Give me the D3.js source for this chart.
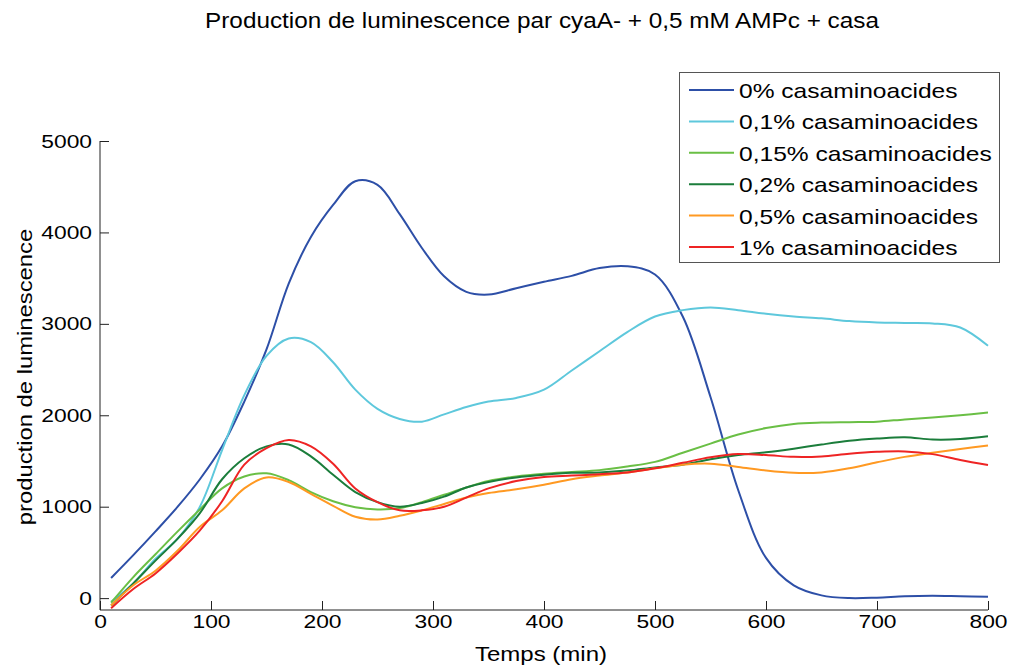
<!DOCTYPE html>
<html><head><meta charset="utf-8">
<script src="https://cdn.jsdelivr.net/npm/d3@7"></script>
<style>body{margin:0;background:#fff}svg{display:block}text{font-family:"Liberation Sans",Arial,sans-serif;fill:#000}</style>
</head><body>
<svg id="c" width="1012" height="668"></svg>
<script>
const times = [10,30,50,70,90,110,130,150,170,190,210,230,250,270,290,310,330,350,375,400,425,450,475,500,525,550,575,600,625,650,675,700,725,750,775,800];
const seriesNames = ["0% casaminoacides","0,1% casaminoacides","0,15% casaminoacides","0,2% casaminoacides","0,5% casaminoacides","1% casaminoacides"];
const seriesColors = ["#2d4fa7","#5ec8dc","#6abf45","#1b7d3b","#ff9922","#ee2424"];
const casa0 = [220,470,730,1000,1300,1660,2150,2720,3440,3950,4300,4560,4520,4200,3830,3520,3350,3320,3390,3460,3525,3610,3630,3540,3080,2200,1180,440,140,30,0,5,20,25,20,15];
const casa01 = [-40,160,430,650,1000,1620,2220,2650,2840,2800,2580,2280,2070,1960,1930,2010,2090,2150,2190,2280,2490,2700,2910,3080,3150,3180,3150,3110,3080,3060,3030,3015,3010,3005,2960,2760];
const casa015 = [-50,230,480,730,970,1200,1330,1365,1290,1160,1060,995,970,985,1050,1130,1210,1280,1330,1360,1380,1400,1440,1490,1590,1690,1790,1860,1905,1920,1925,1930,1955,1975,2000,2030];
const casa02 = [-80,160,410,650,930,1300,1530,1660,1680,1550,1350,1160,1050,1000,1040,1110,1210,1270,1320,1350,1370,1375,1395,1430,1460,1520,1565,1595,1635,1680,1720,1745,1760,1735,1740,1770];
const casa05 = [-80,140,300,520,780,960,1200,1320,1270,1140,1010,890,860,900,960,1030,1100,1150,1190,1240,1300,1340,1375,1420,1460,1470,1435,1395,1370,1375,1420,1485,1545,1590,1630,1670];
const casa1 = [-110,100,270,490,740,1060,1460,1640,1730,1660,1470,1200,1050,960,960,1000,1100,1200,1280,1325,1340,1355,1375,1420,1480,1540,1575,1565,1545,1550,1580,1600,1605,1575,1510,1455];
const xTicks = [0,100,200,300,400,500,600,700,800];
const yTicks = [0,1000,2000,3000,4000,5000];
const titleText = "Production de luminescence par cyaA- + 0,5 mM AMPc + casa";
const xLabel = "Temps (min)";
const yLabel = "production de luminescence";

const allSeries = [casa0,casa01,casa015,casa02,casa05,casa1];
const svg = d3.select("#c");
const L=100, R=988, T=141, B=610;
const x = d3.scaleLinear().domain([0,800]).range([L,R]);
const y = d3.scaleLinear().domain([-130,5000]).range([B,T]);

function stretch(sel, f){
  sel.each(function(){
    const w = this.getComputedTextLength();
    d3.select(this).attr("textLength", w*f).attr("lengthAdjust","spacingAndGlyphs");
  });
}

const fmt = d3.format("d");
const xa = svg.append("g").attr("transform",`translate(0,${B})`)
  .call(d3.axisBottom(x).tickValues(xTicks).tickFormat(fmt).tickSizeInner(-9).tickSizeOuter(0).tickPadding(5));
const ya = svg.append("g").attr("transform",`translate(${L},0)`)
  .call(d3.axisLeft(y).tickValues(yTicks).tickFormat(fmt).tickSizeInner(-9).tickSizeOuter(0).tickPadding(8));
[xa,ya].forEach(a=>{
  a.select(".domain").attr("stroke","#222").attr("stroke-width",1);
  a.selectAll(".tick line").attr("stroke","#222");
  a.selectAll(".tick text").attr("font-size",19).attr("font-family","Liberation Sans, Arial, sans-serif").attr("fill","#000");
});
ya.select(".domain").attr("d",`M0,${B}V${T}`);
xa.select(".domain").attr("d",`M${L},0H${R}`);
xa.selectAll(".tick text").attr("dy","0.71em");
stretch(xa.selectAll(".tick text"),1.2);
stretch(ya.selectAll(".tick text"),1.2);

const line = d3.line().x((d,i)=>x(times[i])).y(d=>y(d)).curve(d3.curveCatmullRom.alpha(0.5));
allSeries.forEach((s,i)=>{
  svg.append("path").datum(s).attr("d",line).attr("fill","none")
    .attr("stroke",seriesColors[i]).attr("stroke-width",2);
});

const tt = svg.append("text").attr("x",542).attr("y",28).attr("text-anchor","middle").attr("font-size",21.5).text(titleText);
stretch(tt,1.13);
const xl = svg.append("text").attr("x",541).attr("y",661).attr("text-anchor","middle").attr("font-size",20).text(xLabel);
stretch(xl,1.2);
const yl = svg.append("text").attr("transform",`translate(32,377) rotate(-90)`).attr("text-anchor","middle").attr("font-size",20).text(yLabel);
stretch(yl,1.19);

// legend
const lg = svg.append("g");
lg.append("rect").attr("x",679.5).attr("y",72.5).attr("width",320).attr("height",190)
  .attr("fill","#fff").attr("stroke","#555").attr("stroke-width",1);
seriesNames.forEach((n,i)=>{
  const yy = 90 + i*31.4;
  lg.append("line").attr("x1",689).attr("x2",734).attr("y1",yy).attr("y2",yy)
    .attr("stroke",seriesColors[i]).attr("stroke-width",2);
  const t = lg.append("text").attr("x",739).attr("y",yy+8).attr("font-size",21).text(n);
  stretch(t,1.17);
});
</script>
</body></html>
